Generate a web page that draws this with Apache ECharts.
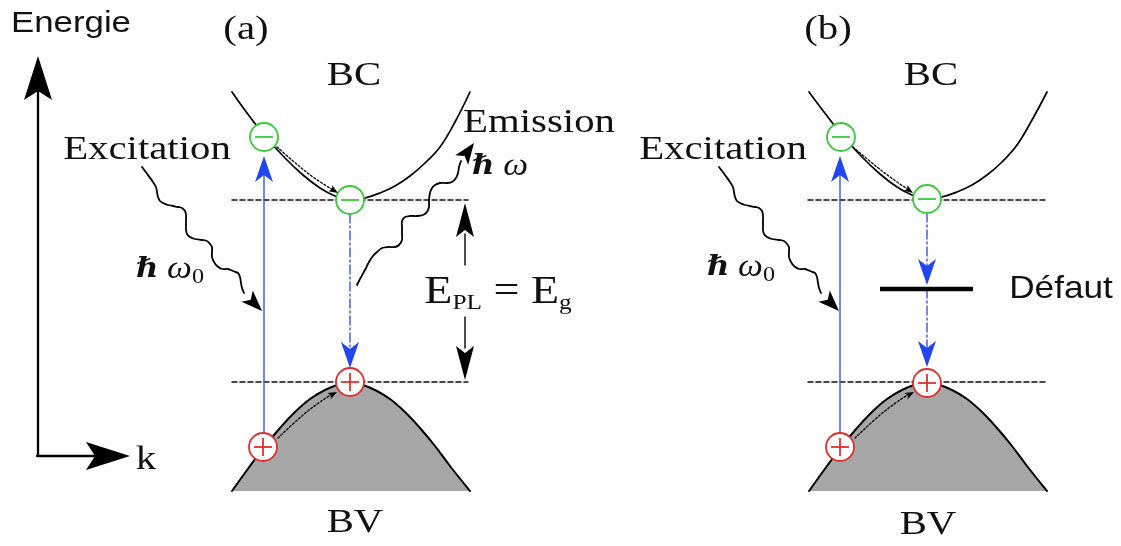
<!DOCTYPE html>
<html><head><meta charset="utf-8">
<script src="https://cdn.jsdelivr.net/npm/echarts@6/dist/echarts.min.js"></script>
<style>html,body{margin:0;padding:0;background:#fff}#c{width:1121px;height:546px}</style>
</head><body><div id="c"></div>
<script>
// ---------- data (diagram coordinates: k horizontally, energy downward in picture units) ----------
const bandBC_a = [[232,92],[247,113],[265,136],[285,158],[303,175],[320,188],[335,196],[350,200],[365,198],[380,193],[395,186],[410,176],[425,163],[440,147],[455,122],[470,92]];
const bandBC_b = [[809,92],[824,112],[842,135],[862,157],[880,174],[897,187],[912,195],[927,199],[942,197],[957,192],[972,185],[987,175],[1002,162],[1017,145],[1032,120],[1047,92]];
const bandBV_a = [[232,491],[250,466],[265,446],[280,428],[295,412],[310,399],[325,390],[340,384],[350,382],[360,384],[375,390],[390,399],[405,412],[420,428],[435,446],[450,466],[470,491]];
const bandBV_b = [[809,491],[827,466],[842,446],[857,428],[872,412],[887,399],[902,390],[917,384],[927,382],[937,384],[952,390],[967,399],[982,412],[997,428],[1012,446],[1027,466],[1047,491]];

const levelsDashed = [
  [[232,200],[468,200]], [[232,382],[468,382]],
  [[808,200],[1045,200]], [[808,382],[1045,382]]
];
const electrons = [[264,137],[350,200],[841,137],[927,199]];
const holes = [[263,447],[350,382],[840,447],[927,383]];

const excitationShafts = [ [[264,447],[264,170]], [[840,447],[840,170]] ];
const emissionShafts = [ [[350,214],[350,350]], [[927,213],[927,272]], [[927,289],[927,350]] ];
const blueHeads = [[264,156,264,200],[350,368,350,320],[840,156,840,200],[927,285,927,250],[927,367,927,320]];

const waveExcA = [[142,167],[148,175],[153,182],[156,187],[157,192],[158,197],[160,201],[163,203],[168,205],[173,206],[178,207],[182,208],[185,211],[186,215],[186,220],[186,225],[186,230],[187,234],[190,237],[195,239],[202,240],[207,241],[210,244],[212,247],[212,252],[212,257],[214,262],[217,266],[222,269],[228,269],[233,271],[238,273],[240,277],[241,283],[242,288],[244,293]];
const waveEmiA = [[357,285],[360,279],[365,270],[369,262],[373,256],[377,252],[382,248],[388,247],[395,247],[399,245],[402,240],[402,233],[402,227],[402,221],[405,217],[410,216],[417,216],[423,215],[427,212],[429,207],[429,200],[430,193],[432,188],[435,185],[440,183],[447,183],[452,182],[456,178],[458,173],[459,167],[461,161]];
const waveExcB = [[719,167],[725,175],[730,182],[733,187],[734,192],[735,197],[737,201],[740,203],[745,205],[750,206],[755,207],[759,208],[762,211],[763,215],[763,220],[763,225],[763,230],[764,234],[767,237],[772,239],[779,240],[784,241],[787,244],[789,247],[789,252],[789,257],[791,262],[794,266],[799,269],[805,269],[810,271],[815,273],[817,277],[818,283],[819,288],[821,293]];
const waveHeads = [[262,311,244,293],[474,143,461,161],[839,311,821,293]];

const relaxPaths = [
  [[277,147],[293,161],[313,177],[333,190]],
  [[278,438],[303,415],[320,402],[332,394]],
  [[853,147],[877,167],[897,182],[909,190]],
  [[855,438],[880,415],[897,402],[909,394]]
];
const relaxHeads = [[338,193,322,183],[337,392,320,401],[913,193,897,182],[914,392,897,401]];

const axisShafts = [ [[38,456],[38,90]], [[37,456],[95,456]] ];
const axisHeads = [[38,56,38,100],[130,456,85,456]];

const gapShafts = [ [[465,234],[465,265]], [[465,317],[465,348]] ];
const gapHeads = [[465,203,465,240],[465,380,465,340]];

const defectLevel = [[880,289],[973,289]];

const labelPos = [[71,24],[246,30],[354,76],[147,150],[539,123],[500,167],[170,270],[498,292],[355,523],[146,460],[828,30],[931,76],[723,150],[741,268],[1061,289],[928,525]];
const labelText = ['Energie','(a)','BC','Excitation','Emission','{h|ℏ}{i| ω}','{h|ℏ}{i| ω}{s|0}','{m|E}{s|PL}{m| = E}{s|g}','BV','k','(b)','BC','Excitation','{h|ℏ}{i| ω}{s|0}','Défaut','BV'];
const labelKind = ['sansE','serif','serif','serif','serif','math','math','big','serif','serif','serif','serif','serif','math','sansD','serif'];

// ---------- styles ----------
const SERIF = '"Liberation Serif","Times New Roman",serif';
const SANS = '"Liberation Sans",Arial,sans-serif';
const textStyles = {
  sansE: {font: '30px ' + SANS, scaleX: 1.16},
  sansD: {font: '32px ' + SANS, scaleX: 1.1},
  serif: {font: '34px ' + SERIF, scaleX: 1.2},
  math:  {font: '32px ' + SERIF, scaleX: 1.1},
  big:   {font: '38px ' + SERIF, scaleX: 1.15}
};
const rich = {
  h: {fontFamily: '"DejaVu Serif",serif', fontSize: 28, fontStyle: 'italic', fontWeight: 'bold', fill: '#111', lineHeight: 36},
  i: {fontFamily: SERIF, fontSize: 32, fontStyle: 'italic', fill: '#111', lineHeight: 36},
  m: {fontFamily: SERIF, fontSize: 40, fill: '#111', lineHeight: 44},
  s: {fontFamily: SERIF, fontSize: 22, fill: '#111', verticalAlign: 'bottom', lineHeight: 30}
};
const BLUE_LINE = '#3d55dc', BLUE_HEAD = '#2446f0', GREEN = '#3cc83c', RED = '#dc3030', GRAY = '#a6a6a6';

// ---------- helpers ----------
function pathSeries(curves, style, opts) {
  opts = opts || {};
  return {type:'custom', coordinateSystem:'cartesian2d', data: curves.map((c, i) => c[0].concat([i])),
    silent:true, animation:false, z: opts.z || 2,
    renderItem(params, api) {
      const pts = curves[params.dataIndex].map(p => api.coord(p));
      return {type:'polyline', shape:{points: pts, smooth: opts.smooth || 0},
        style: Object.assign({fill: null, lineJoin: 'round', lineCap: 'round'}, style)};
    }};
}
function headSeries(data, color, len, hw, notch, z) {
  return {type:'custom', coordinateSystem:'cartesian2d', data, silent:true, animation:false, z: z || 6,
    encode:{x:[0,2], y:[1,3]},
    renderItem(params, api) {
      const t = api.coord([api.value(0), api.value(1)]);
      const f = api.coord([api.value(2), api.value(3)]);
      const a = Math.atan2(t[1]-f[1], t[0]-f[0]);
      const ux = Math.cos(a), uy = Math.sin(a), px = -uy, py = ux;
      const pts = [t,
        [t[0]-len*ux+hw*px, t[1]-len*uy+hw*py],
        [t[0]-(len-notch)*ux, t[1]-(len-notch)*uy],
        [t[0]-len*ux-hw*px, t[1]-len*uy-hw*py]];
      return {type:'polygon', shape:{points: pts}, style:{fill: color}};
    }};
}
function chargeSeries(data, color, plus) {
  return {type:'custom', coordinateSystem:'cartesian2d', data, silent:true, animation:false, z: 5,
    renderItem(params, api) {
      const c = api.coord([api.value(0), api.value(1)]);
      const r = 14, s = 9;
      const ch = [
        {type:'circle', shape:{cx:c[0], cy:c[1], r}, style:{fill:'#fff', stroke: color, lineWidth: 1.8}},
        {type:'line', shape:{x1:c[0]-s, y1:c[1], x2:c[0]+s, y2:c[1]}, style:{stroke: color, lineWidth: 1.8}}
      ];
      if (plus) ch.push({type:'line', shape:{x1:c[0], y1:c[1]-s, x2:c[0], y2:c[1]+s}, style:{stroke: color, lineWidth: 1.8}});
      return {type:'group', children: ch};
    }};
}

const series = [
  pathSeries([bandBV_a, bandBV_b], {fill: GRAY, stroke:'#000', lineWidth: 2}, {smooth: 0.4, z: 1}),
  pathSeries([bandBC_a, bandBC_b], {stroke:'#000', lineWidth: 1.7}, {smooth: 0.4}),
  pathSeries(levelsDashed, {stroke:'#111', lineWidth: 1.4, lineDash:[5,3]}),
  pathSeries(excitationShafts, {stroke: BLUE_LINE, lineWidth: 1.4}, {z:3}),
  pathSeries(emissionShafts, {stroke: BLUE_LINE, lineWidth: 1.4, lineDash:[9,3,2,3]}, {z:3}),
  pathSeries([waveExcA, waveEmiA, waveExcB], {stroke:'#000', lineWidth: 1.8}, {smooth: 0.3}),
  pathSeries(relaxPaths, {stroke:'#000', lineWidth: 1.3, lineDash:[2,2]}, {smooth: 0.4, z: 4}),
  pathSeries(axisShafts, {stroke:'#000', lineWidth: 2.3}),
  pathSeries(gapShafts, {stroke:'#000', lineWidth: 1.4}),
  pathSeries([defectLevel], {stroke:'#000', lineWidth: 4.5, lineCap:'butt'}, {z:3}),
  chargeSeries(electrons, GREEN, false),
  chargeSeries(holes, RED, true),
  headSeries(blueHeads, BLUE_HEAD, 26, 9, 7),
  headSeries(waveHeads, '#000', 21, 8, 5),
  headSeries(relaxHeads, '#000', 9, 3.5, 2),
  headSeries(axisHeads, '#000', 44, 14, 9),
  headSeries(gapHeads, '#000', 34, 9, 7),
  {type:'custom', coordinateSystem:'cartesian2d', data: labelPos, silent:true, animation:false, z: 8,
    renderItem(params, api) {
      const i = params.dataIndex;
      const p = api.coord([api.value(0), api.value(1)]);
      const st = textStyles[labelKind[i]];
      return {type:'text', x: p[0], y: p[1], scaleX: st.scaleX,
        style:{text: labelText[i], font: st.font, fill:'#111', align:'center', verticalAlign:'middle', rich}};
    }}
];

const chart = echarts.init(document.getElementById('c'), null, {renderer:'canvas'});
chart.setOption({
  animation:false,
  backgroundColor:'#fff',
  grid:{left:0, right:0, top:0, bottom:0},
  xAxis:{type:'value', min:0, max:1121, show:false},
  yAxis:{type:'value', min:0, max:546, inverse:true, show:false},
  series
});
</script></body></html>
